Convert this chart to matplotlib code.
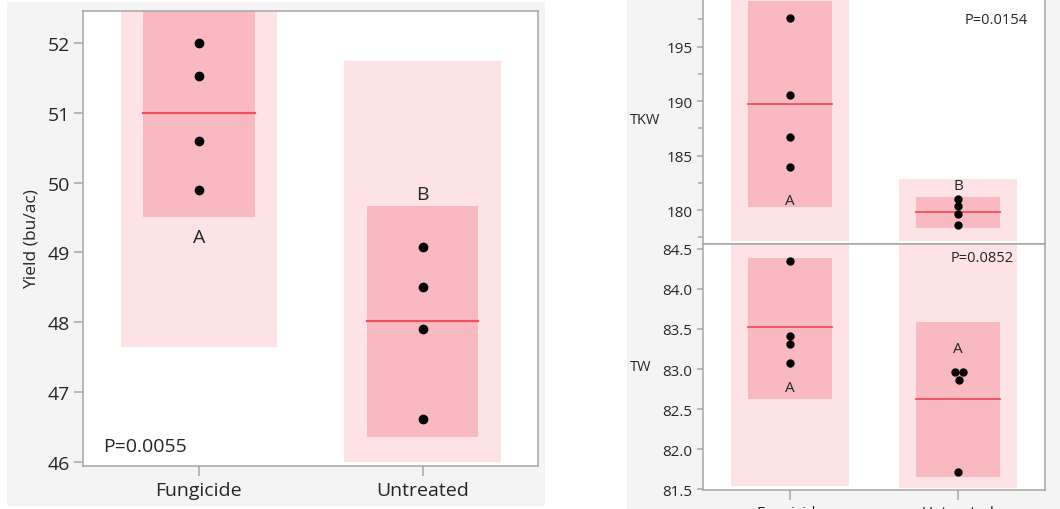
import matplotlib.pyplot as plt
from matplotlib.patches import Rectangle
from matplotlib.ticker import MultipleLocator

plt.rcParams['font.family'] = ['Open Sans', 'DejaVu Sans']

groups = ['Fungicide', 'Untreated']

# Yield (bu/ac)
yield_pts = [[52.0, 51.53, 50.6, 49.9], [49.08, 48.5, 47.91, 46.62]]
yield_mean = [51.0, 48.02]
yield_inner = [(49.51, 52.5), (46.36, 49.67)]
yield_outer = [(47.65, 54.35), (46.0, 51.74)]
yield_letters = ['A', 'B']
yield_p = 'P=0.0055'

# TKW
tkw_pts = [[197.6, 190.6, 186.7, 184.0], [181.0, 180.35, 179.65, 178.65]]
tkw_mean = [189.73, 179.8]
tkw_inner = [(180.27, 199.2), (178.4, 181.2)]
tkw_outer = [(177.2, 202.0), (177.2, 182.9)]
tkw_letters = ['A', 'B']
tkw_p = 'P=0.0154'

# TW
tw_pts = [[84.35, 83.41, 83.31, 83.08], [82.96, 82.96, 82.86, 81.71]]
tw_jitter = [[0, 0, 0, 0], [-0.018, 0.03, 0.006, 0]]
tw_mean = [83.525, 82.625]
tw_inner = [(82.625, 84.39), (81.65, 83.59)]
tw_outer = [(81.54, 85.5), (81.52, 85.5)]
tw_letters = ['A', 'A']
tw_p = 'P=0.0852'

OUTER = '#fde3e6'
INNER = '#f8b9c1'
MEAN = '#f0505f'
FRAME = '#a6a6a6'
TXT = '#262626'

W, H = 1060, 510
fig = plt.figure(figsize=(W / 100, H / 100), dpi=100)


def px_axes(x0, y0, x1, y1):
    # pixel box measured from the top-left corner
    return fig.add_axes([x0 / W, 1 - y1 / H, (x1 - x0) / W, (y1 - y0) / H])


# light gray panel backgrounds
fig.patches.append(Rectangle((7 / W, 3 / H), 538 / W, 504 / H, transform=fig.transFigure,
                             facecolor='#f4f4f4', edgecolor='none', zorder=-10))
fig.patches.append(Rectangle((627 / W, 0), 433 / W, 1, transform=fig.transFigure,
                             facecolor='#f4f4f4', edgecolor='none', zorder=-10))


def draw_panel(ax, pts, mean, inner, outer, jitter, dot, lw, fs, ylen):
    ax.set_facecolor('white')
    for i in range(len(groups)):
        lo, hi = outer[i]
        ax.add_patch(Rectangle((i - 0.35, lo), 0.7, hi - lo, facecolor=OUTER, edgecolor='none', zorder=1))
        lo, hi = inner[i]
        ax.add_patch(Rectangle((i - 0.25, lo), 0.5, hi - lo, facecolor=INNER, edgecolor='none', zorder=2))
        ax.plot([i - 0.25, i + 0.25], [mean[i], mean[i]], color=MEAN, lw=lw, zorder=3)
        xs = [i + j for j in jitter[i]]
        ax.plot(xs, pts[i], 'o', color='black', ms=dot, zorder=4)
    ax.set_xlim(-0.518, 1.516)
    for s in ax.spines.values():
        s.set_color(FRAME)
        s.set_linewidth(1.1)
    ax.tick_params(colors=FRAME, labelcolor=TXT, labelsize=fs)
    ax.tick_params(axis='x', length=7, width=1.1, pad=4)
    ax.tick_params(axis='y', length=ylen, width=1.1, pad=3)


# Yield panel
ax1 = px_axes(83, 12, 538, 467)
draw_panel(ax1, yield_pts, yield_mean, yield_inner, yield_outer,
           [[0] * 4, [0] * 4], 6, 1.6, 14, 6.5)
ax1.set_ylim(45.94, 52.46)
ax1.yaxis.set_major_locator(MultipleLocator(1))
ax1.set_xticks(range(len(groups)))
ax1.set_xticklabels(groups)
ax1.set_ylabel('Yield (bu/ac)', fontsize=12.5, color=TXT, labelpad=6)
for i, (t, y) in enumerate(zip(yield_letters, [49.22, 49.84])):
    ax1.text(i, y, t, ha='center', va='center', fontsize=14, color=TXT, zorder=5)
ax1.text(0.045, 0.025, yield_p, transform=ax1.transAxes, ha='left', va='bottom',
         fontsize=14, color=TXT)

# TKW panel
ax2 = px_axes(703, -3, 1045, 245)
draw_panel(ax2, tkw_pts, tkw_mean, tkw_inner, tkw_outer,
           [[0] * 4, [0] * 4], 5, 1.3, 11, 4.5)
ax2.set_ylim(176.9, 199.64)
ax2.yaxis.set_major_locator(MultipleLocator(5))
ax2.yaxis.set_minor_locator(MultipleLocator(2.5))
ax2.tick_params(axis='y', which='minor', length=3.5, width=1.1, colors=FRAME)
ax2.set_xticks([])
for i, (t, y) in enumerate(zip(tkw_letters, [180.9, 182.3])):
    ax2.text(i, y, t, ha='center', va='center', fontsize=11, color=TXT, zorder=5)
ax2.text(0.95, 0.905, tkw_p, transform=ax2.transAxes, ha='right', va='center',
         fontsize=10.5, color=TXT)
fig.text(630 / W, 1 - 120 / H, 'TKW', ha='left', va='center', fontsize=10.5, color=TXT)

# TW panel
ax3 = px_axes(703, 245, 1045, 491)
draw_panel(ax3, tw_pts, tw_mean, tw_inner, tw_outer, tw_jitter, 5, 1.3, 11, 4.5)
ax3.set_ylim(81.49, 84.56)
ax3.yaxis.set_major_locator(MultipleLocator(0.5))
ax3.yaxis.set_major_formatter('{x:.1f}')
ax3.set_xticks(range(len(groups)))
ax3.set_xticklabels(groups)
for i, (t, y) in enumerate(zip(tw_letters, [82.77, 83.26])):
    ax3.text(i, y, t, ha='center', va='center', fontsize=11, color=TXT, zorder=5)
ax3.text(0.91, 0.945, tw_p, transform=ax3.transAxes, ha='right', va='center',
         fontsize=10.5, color=TXT, zorder=5)
fig.text(630 / W, 1 - 368 / H, 'TW', ha='left', va='center', fontsize=10.5, color=TXT)

fig.savefig('out.png', dpi=100)
